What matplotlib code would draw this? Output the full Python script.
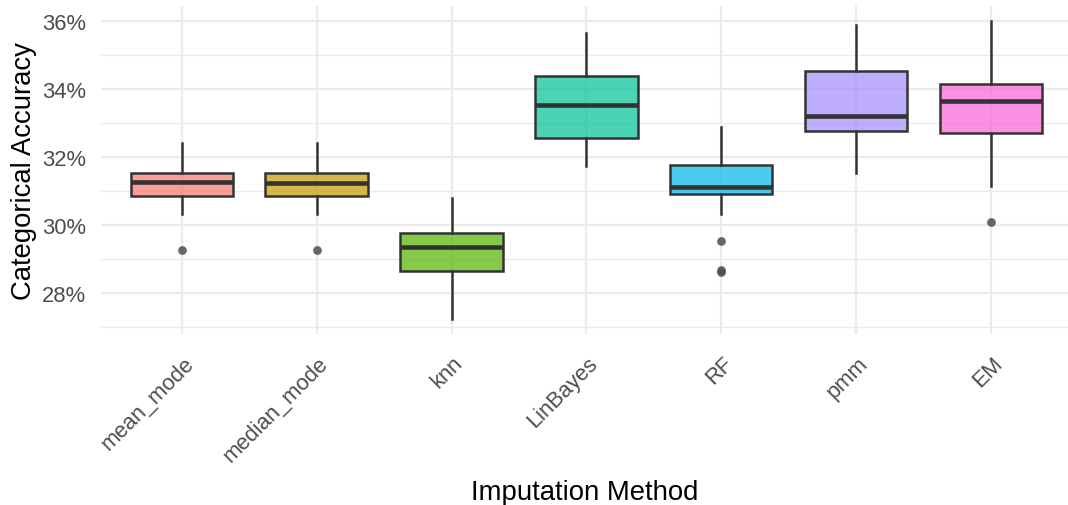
"""Categorical accuracy by imputation method (boxplots)"""
import matplotlib
matplotlib.use("Agg")
import matplotlib.pyplot as plt
from matplotlib.transforms import ScaledTranslation

methods = ["mean_mode", "median_mode", "knn", "LinBayes", "RF", "pmm", "EM"]
colors = ["#F8766D", "#C49A00", "#53B400", "#00C094", "#00B6EB", "#A58AFF", "#FB61D7"]

# box statistics, in percent
q1 = [30.85, 30.85, 28.65, 32.54, 30.90, 32.76, 32.69]
med = [31.25, 31.22, 29.34, 33.52, 31.12, 33.21, 33.63]
q3 = [31.51, 31.51, 29.75, 34.36, 31.76, 34.51, 34.14]
whislo = [30.31, 30.31, 27.23, 31.74, 30.31, 31.52, 31.13]
whishi = [32.39, 32.39, 30.78, 35.63, 32.86, 35.87, 35.98]
outliers = [[29.26], [29.26], [], [], [29.53, 28.68, 28.60], [], [30.09]]

plt.rcParams["font.family"] = ["Liberation Sans", "DejaVu Sans"]

fig = plt.figure(figsize=(10.68, 5.06), dpi=100)
ax = fig.add_axes([101 / 1068, 171 / 506, 967 / 1068, 328 / 506])

stats = []
for i, name in enumerate(methods):
    stats.append({"label": name, "q1": q1[i], "med": med[i], "q3": q3[i],
                  "whislo": whislo[i], "whishi": whishi[i], "fliers": outliers[i]})

line_col = "#333333"
bp = ax.bxp(stats, positions=range(1, len(methods) + 1), widths=0.76,
            patch_artist=True, showcaps=False,
            boxprops=dict(edgecolor=line_col, linewidth=1.8),
            medianprops=dict(color=line_col, linewidth=3.3, solid_capstyle="butt"),
            whiskerprops=dict(color=line_col, linewidth=1.8),
            flierprops=dict(marker="o", markersize=6.3, markerfacecolor="#4d4d4d",
                            markeredgecolor="none", alpha=0.85),
            zorder=3)
for patch, c in zip(bp["boxes"], colors):
    patch.set_facecolor(matplotlib.colors.to_rgba(c, 0.7))

ax.set_xlim(0.4, 7.573)
ax.set_ylim(26.79, 36.43)

ax.set_yticks([28, 30, 32, 34, 36])
ax.set_yticklabels([f"{v}%" for v in [28, 30, 32, 34, 36]])
ax.set_yticks([27, 29, 31, 33, 35], minor=True)

ax.grid(True, which="major", color="#EBEBEB", linewidth=1.6, zorder=0)
ax.grid(True, which="minor", axis="y", color="#EBEBEB", linewidth=1.0, zorder=0)
ax.set_axisbelow(True)
for s in ax.spines.values():
    s.set_visible(False)

ax.tick_params(axis="both", which="both", length=0, labelsize=15.8, labelcolor="#4D4D4D")
ax.tick_params(axis="y", pad=10.5)
ax.tick_params(axis="x", pad=13)
ax.set_xticklabels(methods, rotation=45, ha="right", va="top", rotation_mode="anchor")
for lab in ax.get_xticklabels():
    lab.set_transform(lab.get_transform() + ScaledTranslation(1 / 100, 0, fig.dpi_scale_trans))

ax.set_xlabel("Imputation Method", fontsize=19.8, color="black", labelpad=10)
ax.set_ylabel("Categorical Accuracy", fontsize=19.8, color="black", labelpad=4)

fig.savefig("out.png", dpi=100)
